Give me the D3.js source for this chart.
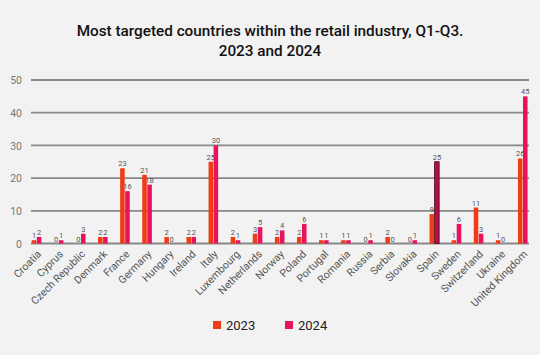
<!DOCTYPE html>
<html>
<head>
<meta charset="utf-8">
<script src="https://cdn.jsdelivr.net/npm/d3@7"></script>
<style>
  html, body { margin: 0; padding: 0; background: #f2f2f2; }
  svg { display: block; }
</style>
</head>
<body>
<svg id="chart" width="540" height="355"></svg>
<script>
const countries = ["Croatia","Cyprus","Czech Republic","Denmark","France","Germany","Hungary","Ireland","Italy","Luxembourg","Netherlands","Norway","Poland","Portugal","Romania","Russia","Serbia","Slovakia","Spain","Sweden","Switzerland","Ukraine","United Kingdom"];
const values2023 = [1,0,0,2,23,21,2,2,25,2,3,2,2,1,1,0,2,0,9,1,11,1,26];
const values2024 = [2,1,3,2,16,18,0,2,30,1,5,4,6,1,1,1,0,1,25,6,3,0,45];
const seriesNames = ["2023","2024"];
const yTicks = [0,10,20,30,40,50];

const colors = {"2023": "#f03c16", "2024": "#e8135c"};
const highlight = {country: "Spain", series: "2024", fill: "#b30f45", stroke: "#4a0a1c"};
const font = "Roboto, 'Open Sans', sans-serif";

const svg = d3.select("#chart");
svg.append("rect").attr("width", 540).attr("height", 355).attr("fill", "#f2f2f2");

// Title
const title = svg.append("text").attr("x", 270).attr("text-anchor", "middle")
  .attr("font-family", font).attr("font-weight", 500).attr("font-size", 15.3).attr("fill", "#111");
title.append("tspan").attr("x", 270).attr("y", 36).text("Most targeted countries within the retail industry, Q1-Q3.");
title.append("tspan").attr("x", 270).attr("y", 56).text("2023 and 2024");

const y = d3.scaleLinear().domain([0, 50]).range([243.5, 80]);
const x = d3.scaleBand().domain(countries).range([25.5, 533.8]).paddingInner(0).paddingOuter(0);
const xs = d3.scaleBand().domain(seriesNames).range([-4.8, 4.8]).paddingInner(0.1);

// Gridlines
svg.append("g").selectAll("line").data(yTicks).join("line")
  .attr("x1", 31).attr("x2", 529)
  .attr("y1", d => y(d)).attr("y2", d => y(d))
  .attr("stroke", "#888").attr("stroke-width", 1.8);

// Y axis labels
const yAxis = d3.axisLeft(y).tickValues(yTicks).tickSize(0).tickPadding(0);
const ya = svg.append("g").attr("transform", "translate(22,0)").call(yAxis);
ya.select(".domain").remove();
ya.selectAll("text").attr("font-family", font).attr("font-size", 10.5).attr("fill", "#777").attr("dy", "0.35em");

// Bars
const rows = countries.map((c, i) => ({country: c, vals: [values2023[i], values2024[i]]}));
const groups = svg.append("g").selectAll("g").data(rows).join("g")
  .attr("transform", d => `translate(${x(d.country) + x.bandwidth() / 2},0)`);

const cells = groups.selectAll("g.cell").data(d => seriesNames.map((s, j) => ({country: d.country, series: s, value: d.vals[j]})))
  .join("g").attr("class", "cell");

cells.filter(d => d.value > 0).append("rect")
  .attr("x", d => xs(d.series))
  .attr("width", xs.bandwidth())
  .attr("y", d => y(d.value))
  .attr("height", d => y(0) - y(d.value))
  .attr("fill", d => (d.country === highlight.country && d.series === highlight.series) ? highlight.fill : colors[d.series])
  .attr("stroke", d => (d.country === highlight.country && d.series === highlight.series) ? highlight.stroke : "none")
  .attr("stroke-width", 0.8);

cells.append("text")
  .attr("x", d => xs(d.series) + xs.bandwidth() / 2)
  .attr("y", d => y(d.value) - 2)
  .attr("text-anchor", "middle")
  .attr("font-family", font).attr("font-size", 7.5).attr("fill", "#555")
  .text(d => d.value);

// X labels
const xAxis = d3.axisBottom(x).tickSize(0).tickPadding(0);
const xa = svg.append("g").attr("transform", `translate(0,${y(0) + 6})`).call(xAxis);
xa.select(".domain").remove();
xa.selectAll("text")
  .attr("font-family", font).attr("font-size", 10.5).attr("fill", "#555")
  .attr("text-anchor", "end").attr("dy", "0.7em").attr("y", 0).attr("x", 0)
  .attr("transform", "rotate(-45)");

// Legend
const legend = svg.append("g");
const legItems = [{s: "2023", x: 213}, {s: "2024", x: 285}];
legend.selectAll("rect").data(legItems).join("rect")
  .attr("x", d => d.x).attr("y", 321).attr("width", 8).attr("height", 8)
  .attr("fill", d => colors[d.s]);
legend.selectAll("text").data(legItems).join("text")
  .attr("x", d => d.x + 13).attr("y", 330)
  .attr("font-family", font).attr("font-size", 13).attr("fill", "#222")
  .text(d => d.s);
</script>
</body>
</html>
